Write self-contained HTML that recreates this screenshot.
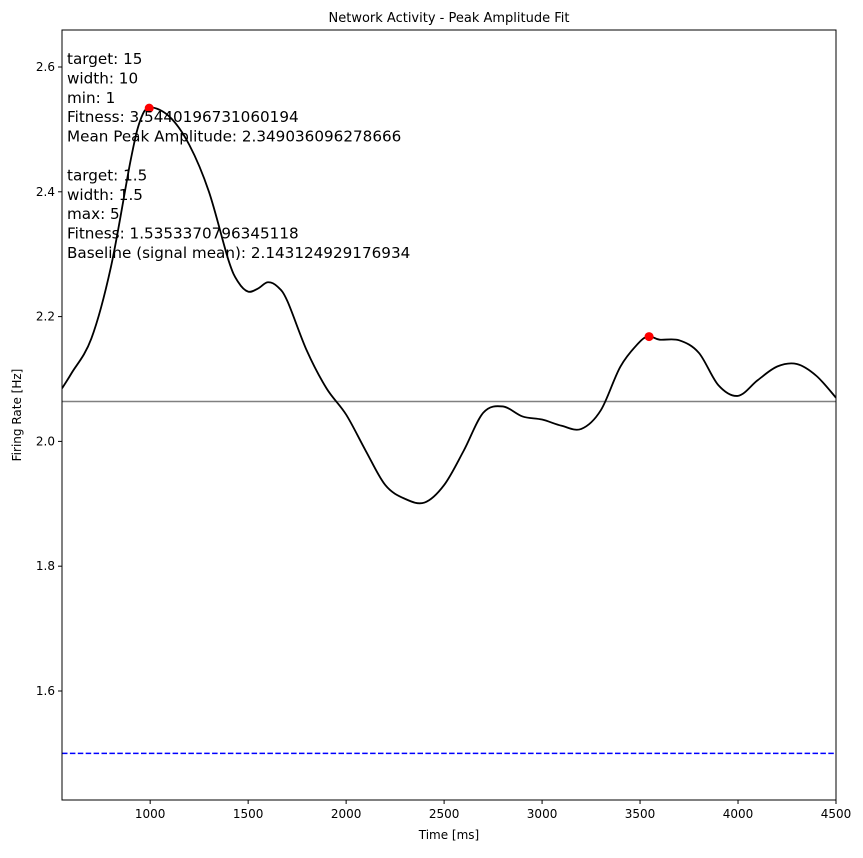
<!DOCTYPE html>
<html><head><meta charset="utf-8"><style>
body{margin:0;background:#fff;font-family:"Liberation Sans","DejaVu Sans",sans-serif}
</style></head><body>
<svg id="c" width="863" height="853" xmlns="http://www.w3.org/2000/svg" font-family="'DejaVu Sans','Liberation Sans',sans-serif"></svg>
<script>
const times=[550,600,700,800,900,950,1000,1100,1200,1300,1400,1450,1500,1550,1600,1650,1700,1800,1900,2000,2100,2200,2300,2400,2500,2600,2700,2800,2900,3000,3100,3200,3300,3400,3500,3550,3600,3700,3800,3900,4000,4100,4200,4300,4400,4500];
const rates=[2.085,2.11,2.165,2.28,2.45,2.515,2.535,2.52,2.475,2.40,2.29,2.255,2.24,2.245,2.255,2.248,2.225,2.145,2.085,2.043,1.985,1.93,1.908,1.902,1.93,1.985,2.046,2.056,2.04,2.035,2.025,2.02,2.05,2.12,2.16,2.168,2.163,2.162,2.142,2.09,2.073,2.098,2.12,2.124,2.105,2.07];
const peakTimes=[995,3546];
const peakRates=[2.534,2.168];
const baseline=2.064;
const targetLine=1.5;
const xTicks=[1000,1500,2000,2500,3000,3500,4000,4500];
const yTicks=[1.6,1.8,2.0,2.2,2.4,2.6];
const annot=["target: 15","width: 10","min: 1","Fitness: 3.5440196731060194","Mean Peak Amplitude: 2.349036096278666","","target: 1.5","width: 1.5","max: 5","Fitness: 1.5353370796345118","Baseline (signal mean): 2.143124929176934"];

const L=62,R=836,T=30,B=800,x0=550,x1=4500,y0=1.4253,y1=2.6593;
const sx=v=>L+(v-x0)/(x1-x0)*(R-L);
const sy=v=>B-(v-y0)/(y1-y0)*(B-T);
const svg=document.getElementById('c');
const NS='http://www.w3.org/2000/svg';
function mk(tag,attrs,parent){const e=document.createElementNS(NS,tag);for(const k in attrs)e.setAttribute(k,attrs[k]);(parent||svg).appendChild(e);return e;}

const defs=mk('defs',{});const cp=mk('clipPath',{id:'clip'},defs);mk('rect',{x:L,y:T,width:R-L,height:B-T},cp);

let e=mk('line',{x1:L,x2:R,y1:sy(baseline),y2:sy(baseline),stroke:'#808080','stroke-width':1.5});


e=mk('line',{x1:L,x2:R,y1:sy(targetLine),y2:sy(targetLine),stroke:'#0000ff','stroke-width':1.5,'stroke-dasharray':'5.5,2.4'});



const P=times.map((t,i)=>[sx(t),sy(rates[i])]);
let d='M'+P[0][0]+','+P[0][1];
for(let i=0;i<P.length-1;i++){const p0=P[Math.max(0,i-1)],p1=P[i],p2=P[i+1],p3=P[Math.min(P.length-1,i+2)];
d+=` C${p1[0]+(p2[0]-p0[0])/6},${p1[1]+(p2[1]-p0[1])/6} ${p2[0]-(p3[0]-p1[0])/6},${p2[1]-(p3[1]-p1[1])/6} ${p2[0]},${p2[1]}`;}
e=mk('path',{d:d,fill:'none',stroke:'#000','stroke-width':1.8,'clip-path':'url(#clip)'});



peakTimes.forEach((t,i)=>{const c=mk('circle',{cx:sx(t),cy:sy(peakRates[i]),r:4.5,fill:'#ff0000'});

});

e=mk('rect',{x:L,y:T,width:R-L,height:B-T,fill:'none',stroke:'#000','stroke-width':1});



xTicks.forEach(v=>{const x=sx(v);mk('line',{x1:x,x2:x,y1:B,y2:B+4,stroke:'#000'});
const t=mk('text',{x:x,y:B+18,'text-anchor':'middle','font-size':12});t.textContent=v;

});
yTicks.forEach(v=>{const y=sy(v);mk('line',{x1:L-4,x2:L,y1:y,y2:y,stroke:'#000'});
const t=mk('text',{x:L-7,y:y+4,'text-anchor':'end','font-size':12});t.textContent=v.toFixed(1);

});

e=mk('text',{x:449,y:839,'text-anchor':'middle','font-size':12});e.textContent='Time [ms]';


e=mk('text',{x:21,y:415,'text-anchor':'middle','font-size':12,transform:'rotate(-90 21 415)'});e.textContent='Firing Rate [Hz]';


e=mk('text',{x:449,y:22,'text-anchor':'middle','font-size':13});e.textContent='Network Activity - Peak Amplitude Fit';



annot.forEach((s,i)=>{if(!s)return;const t=mk('text',{x:67,y:64+i*19.4,'font-size':15.2});t.textContent=s;

});
</script>
</body></html>
